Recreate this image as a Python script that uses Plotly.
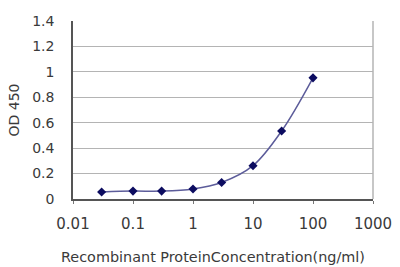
import plotly.graph_objects as go

conc = [0.03, 0.1, 0.3, 1, 3, 10, 30, 100]
od = [0.055, 0.062, 0.062, 0.079, 0.13, 0.262, 0.535, 0.953]
x_ticks = [0.01, 0.1, 1, 10, 100, 1000]
x_tick_text = ["0.01", "0.1", "1", "10", "100", "1000"]
y_ticks = [0, 0.2, 0.4, 0.6, 0.8, 1, 1.2, 1.4]
y_tick_text = ["0", "0.2", "0.4", "0.6", "0.8", "1", "1.2", "1.4"]
x_title = "Recombinant ProteinConcentration(ng/ml)"
y_title = "OD 450"

font = "DejaVu Sans"
txt = "#3a3a3a"
fig = go.Figure()
fig.add_trace(go.Scatter(
    x=conc, y=od, mode="lines+markers",
    line=dict(color="#5c5c9a", width=1.5, shape="spline"),
    marker=dict(symbol="diamond", size=7, color="#0c0c60"),
    showlegend=False,
))
fig.update_layout(
    width=400, height=267,
    margin=dict(l=73, r=27, t=21, b=68, autoexpand=False),
    paper_bgcolor="white", plot_bgcolor="white",
    font=dict(family=font, color=txt),
)
fig.update_xaxes(
    type="log", range=[-2, 3], automargin=False,
    tickvals=x_ticks, ticktext=x_tick_text,
    tickfont=dict(size=15, family=font, color=txt),
    showgrid=False, showline=True, linecolor="#555555", linewidth=1.5,
    mirror=False, ticks="outside", ticklen=3, tickcolor="#777777",
    ticklabelstandoff=7,
    zeroline=False,
)
fig.add_annotation(text=x_title, xref="paper", yref="paper",
                   x=0.467, y=-0.326, xanchor="center", yanchor="middle",
                   showarrow=False, font=dict(size=14.4, family=font, color=txt))
fig.update_yaxes(
    range=[0, 1.4], automargin=False, tickvals=y_ticks, ticktext=y_tick_text,
    tickfont=dict(size=14, family=font, color=txt),
    showgrid=True, gridcolor="#b4b4b4", gridwidth=1.2,
    showline=True, linecolor="#555555", linewidth=1.5,
    ticks="", ticklabelstandoff=14,
    title=dict(text=y_title, font=dict(size=14, family=font, color=txt), standoff=9),
    zeroline=False,
)
# right border of plot area
fig.add_shape(type="line", xref="paper", yref="paper", x0=1, x1=1, y0=0, y1=1,
              line=dict(color="#b4b4b4", width=1.5))
fig.write_html("out.html")
